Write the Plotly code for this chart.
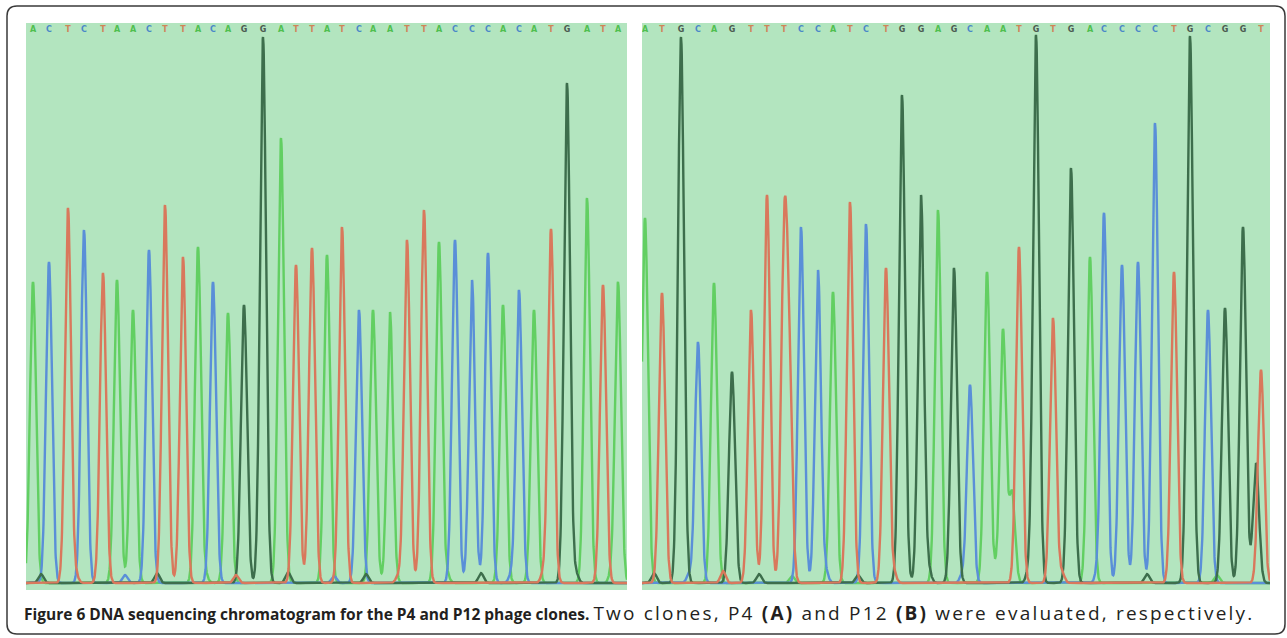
import numpy as np
import plotly.graph_objects as go

# ---------------- data ----------------
LEFT_SEQ = "ACTCTAACTTACAGGATTATCAATTACCCACATGATA"
LEFT_POS = [7, 23, 42, 58, 77, 91, 107, 123, 139, 157, 172, 187, 202, 218, 237, 255,
            270, 286, 301, 316, 333, 347, 364, 381, 398, 413, 429, 446, 462, 477, 493,
            508, 525, 541, 561, 577, 592]
LEFT_HEIGHT = [301, 321, 375, 353, 310, 303, 273, 333, 378, 326, 336, 301, 270, 278, 546,
               445, 318, 335, 328, 356, 273, 273, 271, 343, 373, 341, 343, 303, 330, 278,
               293, 273, 354, 500, 385, 298, 301]

RIGHT_SEQ = "ATGCAGTTTCCATCTGGAGCAATGTGACCCCTGCGGT"
RIGHT_POS = [3, 20, 39, 56, 72, 90, 109, 125, 142, 159, 176, 191, 208, 224, 244, 260,
             279, 296, 312, 328, 345, 361, 377, 394, 411, 429, 448, 462, 480, 496, 513,
             532, 548, 566, 583, 601, 619]
RIGHT_HEIGHT = [365, 290, 546, 241, 300, 211, 273, 388, 320, 356, 313, 291, 381, 359, 315,
                488, 388, 373, 315, 198, 311, 253, 336, 548, 265, 415, 326, 370, 318, 321,
                460, 311, 547, 273, 275, 356, 213]

# secondary (overlapping) peaks: base, position, height
RIGHT_EXTRA_BASE = ["T", "A", "G"]
RIGHT_EXTRA_POS = [147, 370, 614]
RIGHT_EXTRA_HEIGHT = [205, 90, 120]

# small baseline bumps (noise) read from the bottom strip: base, position, height
LEFT_NOISE_BASE = ["G", "T", "C", "G", "A", "T", "G", "C", "G", "T", "A", "G", "C", "T", "G", "A"]
LEFT_NOISE_POS = [15, 50, 99, 131, 180, 210, 262, 308, 340, 372, 421, 455, 485, 517, 550, 585]
LEFT_NOISE_HEIGHT = [9, 7, 8, 10, 6, 8, 11, 7, 9, 6, 8, 10, 7, 8, 9, 7]
RIGHT_NOISE_BASE = ["G", "C", "T", "G", "A", "C", "G", "T", "G", "C", "A", "G", "T", "C", "G", "A"]
RIGHT_NOISE_POS = [12, 47, 81, 117, 150, 184, 216, 252, 287, 320, 353, 386, 420, 455, 505, 575]
RIGHT_NOISE_HEIGHT = [10, 8, 12, 9, 7, 10, 8, 9, 11, 7, 9, 8, 10, 7, 9, 8]

BASES = ["A", "C", "G", "T"]
TRACE_COLORS = {"A": "#62cf62", "C": "#5a8fd8", "G": "#3d6e4c", "T": "#d9785c"}
LETTER_COLORS = {"A": "#4fbf4f", "C": "#4a88c8", "G": "#4a5a50", "T": "#d08458"}

PANEL_BG = "#b3e5bf"
SIGMA = 3.0

# ---------------- figure ----------------
W, H = 1287, 638
fig = go.Figure()


def px_x(p):
    return p / W


def px_y(p):
    return 1 - p / H


panels = [
    dict(seq=LEFT_SEQ, pos=LEFT_POS, hgt=LEFT_HEIGHT, extra=([], [], []),
         noise=(LEFT_NOISE_BASE, LEFT_NOISE_POS, LEFT_NOISE_HEIGHT),
         x0=26, x1=627, xa="x", ya="y"),
    dict(seq=RIGHT_SEQ, pos=RIGHT_POS, hgt=RIGHT_HEIGHT,
         extra=(RIGHT_EXTRA_BASE, RIGHT_EXTRA_POS, RIGHT_EXTRA_HEIGHT),
         noise=(RIGHT_NOISE_BASE, RIGHT_NOISE_POS, RIGHT_NOISE_HEIGHT),
         x0=642, x1=1270, xa="x2", ya="y2"),
]

for pn in panels:
    width = pn["x1"] - pn["x0"]
    xs = np.arange(0, width + 0.25, 0.25)
    for b in BASES:
        ys = np.zeros_like(xs)
        for ch, p, h in zip(pn["seq"], pn["pos"], pn["hgt"]):
            if ch == b:
                ys += h * np.exp(-((xs - p) ** 2) / (2 * SIGMA ** 2))
        for ch, p, h in zip(*pn["extra"]):
            if ch == b:
                ys += h * np.exp(-((xs - p) ** 2) / (2 * SIGMA ** 2))
        for ch, p, h in zip(*pn["noise"]):
            if ch == b:
                ys += h * np.exp(-((xs - p) ** 2) / (2 * 2.5 ** 2))
        fig.add_trace(go.Scatter(x=xs, y=ys, mode="lines", xaxis=pn["xa"], yaxis=pn["ya"],
                                 line=dict(color=TRACE_COLORS[b], width=2.4),
                                 hoverinfo="skip", showlegend=False))
    # base letters
    fig.add_trace(go.Scatter(x=pn["pos"], y=[553] * len(pn["pos"]), mode="text",
                             text=[f"<b>{c}</b>" for c in pn["seq"]],
                             xaxis=pn["xa"], yaxis=pn["ya"],
                             textfont=dict(size=8, family="DejaVu Sans",
                                           color=[LETTER_COLORS[c] for c in pn["seq"]]),
                             hoverinfo="skip", showlegend=False))

ydom = [px_y(590), px_y(23)]
axis_common = dict(showgrid=False, zeroline=False, showticklabels=False, ticks="",
                   showline=False, fixedrange=True)
fig.update_layout(
    width=W, height=H,
    margin=dict(l=0, r=0, t=0, b=0),
    paper_bgcolor="white",
    plot_bgcolor=PANEL_BG,
    xaxis=dict(domain=[px_x(26), px_x(627)], range=[0, 601], **axis_common),
    yaxis=dict(domain=ydom, range=[-7, 560], **axis_common),
    xaxis2=dict(domain=[px_x(642), px_x(1270)], range=[0, 628], anchor="y2", **axis_common),
    yaxis2=dict(domain=ydom, range=[-7, 560], anchor="x2", **axis_common),
)

# outer rounded border
L, R, T, B, r = 7, 1285, 6, 634, 10
path = (f"M {px_x(L + r)},{px_y(T)} L {px_x(R - r)},{px_y(T)} "
        f"Q {px_x(R)},{px_y(T)} {px_x(R)},{px_y(T + r)} "
        f"L {px_x(R)},{px_y(B - r)} Q {px_x(R)},{px_y(B)} {px_x(R - r)},{px_y(B)} "
        f"L {px_x(L + r)},{px_y(B)} Q {px_x(L)},{px_y(B)} {px_x(L)},{px_y(B - r)} "
        f"L {px_x(L)},{px_y(T + r)} Q {px_x(L)},{px_y(T)} {px_x(L + r)},{px_y(T)} Z")
fig.add_shape(type="path", path=path, xref="paper", yref="paper",
              line=dict(color="#3a3a3a", width=1.5), fillcolor="rgba(0,0,0,0)")

caption = ("<b>Figure 6 DNA sequencing chromatogram for the P4 and P12 phage clones.</b> "
           "<span style=\"letter-spacing:2.2px;font-size:19px\">Two clones, P4 <b>(A)</b> and P12 "
           "<b>(B)</b> were evaluated, respectively.</span>")
fig.add_annotation(x=px_x(22), y=px_y(613), xref="paper", yref="paper",
                   xanchor="left", yanchor="middle", showarrow=False, text=caption,
                   font=dict(size=15.5, family="Open Sans", color="#231f20"))

fig.write_html("out.html", config={"displayModeBar": False},
               post_script="document.body.style.margin='0';")
